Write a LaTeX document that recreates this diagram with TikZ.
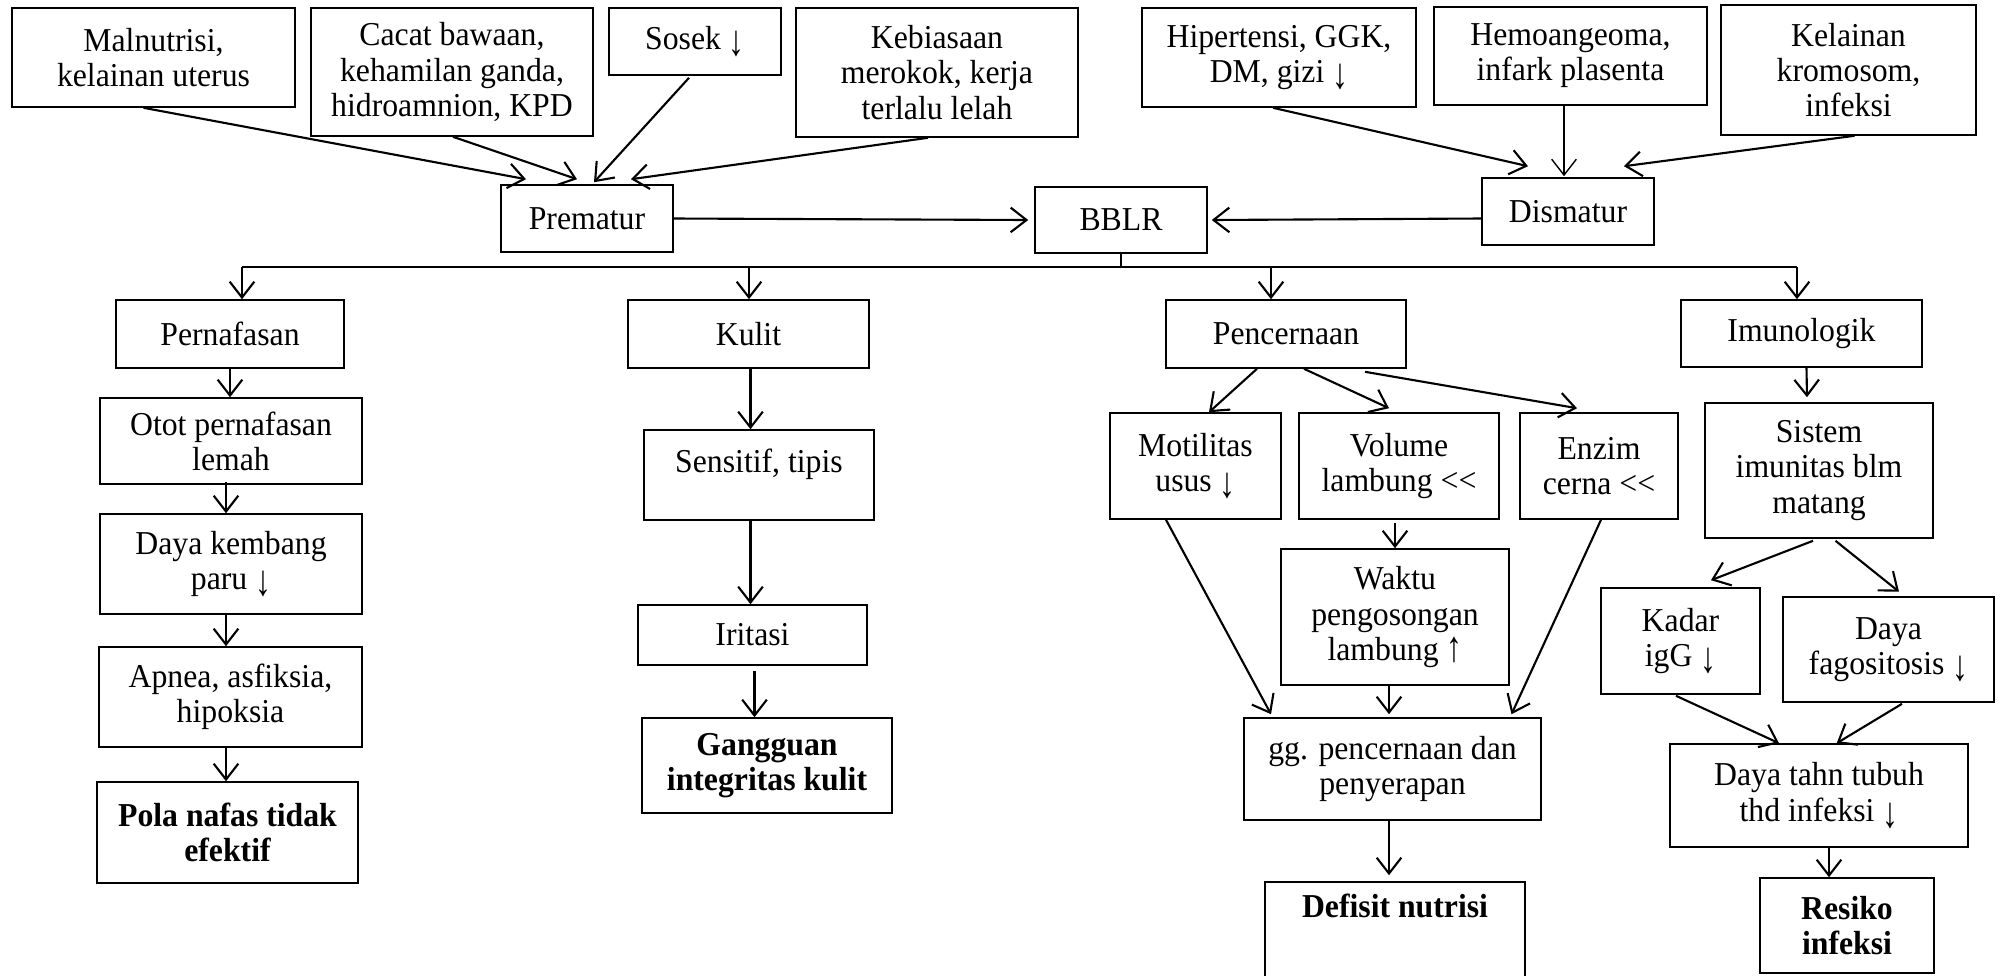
\documentclass[tikz,border=0pt]{standalone}
\usepackage{fontspec}
\usepackage{graphicx}
\setmainfont{Liberation Serif}[FakeStretch=0.95]
\usetikzlibrary{arrows.meta,calc}

\newcommand{\bxn}[7][]{\node[rbox,#1,minimum width={(#5-#3)*0.01cm},minimum height={(#6-#4)*0.01cm}] (#2) at ({(#3+#5)/2},{(#4+#6)/2}) {#7};}
\newcommand{\dnar}{\raisebox{-0.18em}{\scalebox{1}[1.3]{↓}}}
\newcommand{\upar}{\raisebox{-0.05em}{\scalebox{1}[1.3]{↑}}}

\begin{document}
\begin{tikzpicture}[x=0.01cm,y=-0.01cm,
  rbox/.style={draw,line width=0.45pt,align=center,inner sep=1pt,font=\fontsize{9.5}{10}\selectfont},
  bbox/.style={font=\fontsize{9.5}{10}\selectfont\bfseries},
  arr/.style={line width=0.6pt,-{Straight Barb[length=4.5pt,width=7pt]}},
  thinarr/.style={line width=0.4pt,-{Straight Barb[length=4.5pt,width=7pt]}},
  ln/.style={line width=0.5pt}]
\clip (0,0) rectangle (2005,975);
\fill[white] (0,0) rectangle (2005,975);

% top causes
\bxn{mal}{12}{8}{295}{107}{Malnutrisi,\\kelainan uterus}
\bxn{cac}{311}{8}{593}{136}{Cacat bawaan,\\kehamilan ganda,\\hidroamnion, KPD}
\bxn{sos}{609}{8}{781}{75}{Sosek \dnar}
\bxn{keb}{796}{8}{1078}{137}{Kebiasaan\\merokok, kerja\\terlalu lelah}
\bxn{hip}{1142}{8}{1416}{107}{Hipertensi, GGK,\\DM, gizi \dnar}
\bxn{hem}{1434}{7}{1707}{105}{Hemoangeoma,\\infark plasenta}
\bxn{kel}{1721}{5}{1976}{135}{Kelainan\\kromosom,\\infeksi}
\bxn{pre}{501}{185}{673}{252}{Prematur}
\bxn{bbl}{1035}{187}{1207}{253}{BBLR}
\bxn{dis}{1482}{178}{1654}{245}{Dismatur}

% second tier
\bxn{per}{116}{300}{344}{368}{Pernafasan}
\bxn{kul}{628}{300}{869}{368}{Kulit}
\bxn{pen}{1166}{300}{1406}{368}{Pencernaan}
\bxn{imu}{1681}{300}{1922}{367}{Imunologik}

% pernafasan column
\bxn{oto}{100}{398}{362}{484}{Otot pernafasan\\lemah}
\bxn{dkp}{100}{514}{362}{614}{Daya kembang\\paru \dnar}
\bxn{apn}{99}{647}{362}{747}{Apnea, asfiksia,\\hipoksia}
\bxn[bbox]{pol}{97}{782}{358}{883}{Pola nafas tidak\\efektif}

% kulit column
\bxn{sen}{644}{430}{874}{520}{Sensitif, tipis\\[-2pt]\mbox{}}
\bxn{iri}{638}{605}{867}{665}{Iritasi}
\bxn[bbox]{gan}{642}{718}{892}{813}{Gangguan\\integritas kulit}

% pencernaan column
\bxn{mot}{1110}{413}{1281}{519}{Motilitas\\usus \dnar}
\bxn{vol}{1299}{413}{1499}{519}{Volume\\lambung <\kern0pt<}
\bxn{enz}{1520}{413}{1678}{519}{Enzim\\cerna <\kern0pt<}
\bxn{wak}{1281}{549}{1509}{685}{Waktu\\pengosongan\\lambung \upar}
\bxn{ggp}{1244}{718}{1541}{820}{gg. pencernaan dan\\penyerapan}
\bxn[bbox]{def}{1265}{882}{1525}{1000}{Defisit nutrisi\\\mbox{}\\\mbox{}}

% imunologik column
\bxn{sis}{1705}{403}{1933}{538}{Sistem\\imunitas blm\\matang}
\bxn{kad}{1601}{588}{1760}{694}{Kadar\\igG \dnar}
\bxn{daf}{1783}{597}{1994}{702}{Daya\\fagositosis \dnar}
\bxn{dat}{1670}{744}{1968}{847}{Daya tahn tubuh\\thd infeksi \dnar}
\bxn[bbox]{res}{1760}{878}{1934}{973}{Resiko\\infeksi}

% arrows to Prematur / Dismatur
\draw[arr] ($(mal.south)+(-10,0)$) -- ($(pre.north)+(-61,-5)$);
\draw[arr] ($(cac.south)+(1,0)$) -- ($(pre.north)+(-10,-5)$);
\draw[arr] ($(sos.south)+(-6,2)$) -- ($(pre.north)+(7,-2)$);
\draw[arr] ($(keb.south)+(-9,0)$) -- ($(pre.north)+(44,-5)$);
\draw[arr] ($(hip.south)+(-6,0)$) -- ($(dis.north)+(-40,-11)$);
\draw[thinarr] ($(hem.south)+(-6.5,0)$) -- ($(dis.north)+(-4,-1)$);
\draw[arr] ($(kel.south)+(6,0)$) -- ($(dis.north)+(56,-11)$);
\draw[arr] (pre.east) -- ($(bbl.west)+(-6,0)$);
\draw[arr] ($(dis.west)+(0,7)$) -- ($(bbl.east)+(4,0)$);

% distribution from BBLR
\coordinate (hL) at ($(per.north)+(12,-32)$);
\coordinate (hR) at ($(imu.north)+(-4.5,-32)$);
\draw[ln] (bbl.south) -- (bbl.south |- hL);
\draw[ln] (hL) -- (hR);
\draw[arr] (hL) -- ($(per.north)+(12,0)$);
\draw[arr] ($(kul.north)+(0.5,-32)$) -- ($(kul.north)+(0.5,0)$);
\draw[arr] ($(pen.north)+(-15,-32)$) -- ($(pen.north)+(-15,0)$);
\draw[arr] (hR) -- ($(imu.north)+(-4.5,0)$);

% pernafasan column
\draw[arr] (per.south) -- ($(oto.north)+(-1,0)$);
\draw[arr] ($(oto.south)+(-5,-3)$) -- ($(dkp.north)+(-5,0)$);
\draw[arr] ($(dkp.south)+(-5,0)$) -- ($(apn.north)+(-4.5,0)$);
\draw[arr] ($(apn.south)+(-4.5,0)$) -- ($(pol.north)+(-1.5,0)$);

% kulit column
\draw[arr] ($(kul.south)+(2,0)$) -- ($(sen.north)+(-8.5,0)$);
\draw[arr] ($(sen.south)+(-8.5,0)$) -- ($(iri.north)+(-2,0)$);
\draw[arr] ($(iri.south)+(2,5)$) -- ($(gan.north)+(-12.5,0)$);

% pencernaan column
\draw[arr] ($(pen.south)+(-29,0)$) -- ($(mot.north)+(13.5,0)$);
\draw[arr] ($(pen.south)+(18,0)$) -- ($(vol.north)+(-10,-4)$);
\draw[arr] ($(pen.south)+(79,3)$) -- ($(enz.north)+(-22,-4)$);
\draw[arr] ($(vol.south)+(-4,3)$) -- (wak.north);
\draw[arr] ($(mot.south)+(-29.5,0)$) -- ($(ggp.north)+(-121.5,-3)$);
\draw[arr] ($(wak.south)+(-6,0)$) -- ($(ggp.north)+(-3.5,-3)$);
\draw[arr] ($(enz.south)+(2,0)$) -- ($(ggp.north)+(119,-3)$);
\draw[arr] ($(ggp.south)+(-3.5,0)$) -- ($(def.north)+(-6,-6)$);

% imunologik column
\draw[arr] ($(imu.south)+(5,0)$) -- ($(sis.north)+(-12,-5)$);
\draw[arr] ($(sis.south)+(-6,2)$) -- ($(kad.north)+(30.5,-7)$);
\draw[arr] ($(sis.south)+(16.5,2)$) -- ($(daf.north)+(10.5,-4.5)$);
\draw[arr] ($(kad.south)+(-4.5,1)$) -- ($(dat.north)+(-40,0)$);
\draw[arr] ($(daf.south)+(13.5,1)$) -- ($(dat.north)+(17.7,0)$);
\draw[arr] ($(dat.south)+(10,0)$) -- ($(res.north)+(-18,0)$);
\end{tikzpicture}
\end{document}
